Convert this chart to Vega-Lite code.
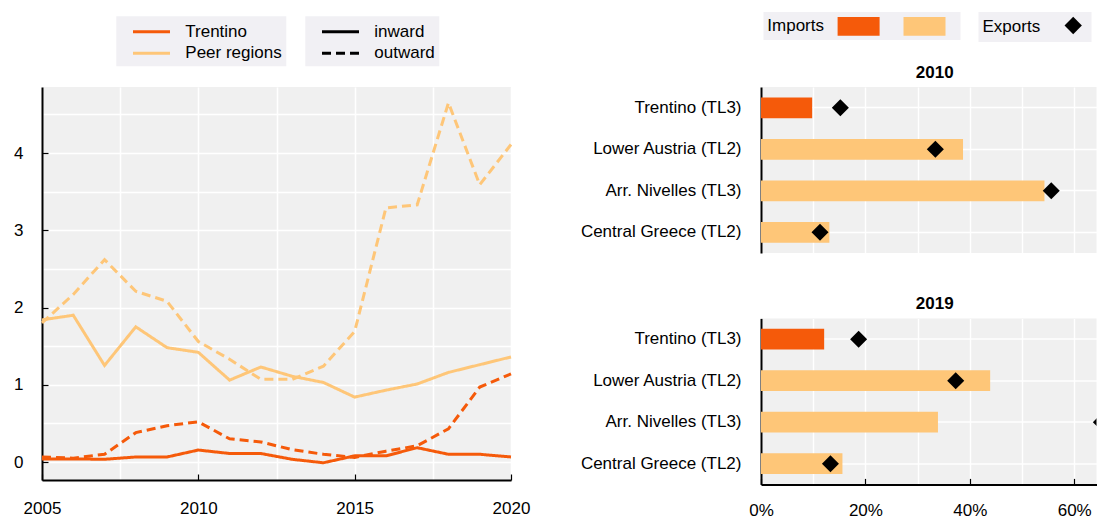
{
  "$schema": "https://vega.github.io/schema/vega-lite/v6.json",
  "padding": {"left": 13, "top": 12, "right": 0, "bottom": 0},
  "background": "white",
  "config": {
    "font": "Liberation Sans",
    "view": {"fill": "#F0F0F0", "stroke": null},
    "axis": {"labelFont": "Liberation Sans", "labelFontSize": 17, "labelColor": "#000000", "labelLimit": 300, "gridColor": "#FFFFFF", "gridWidth": 1.5, "gridOpacity": 1, "domainColor": "#000000", "domainWidth": 2, "tickColor": "#000000", "tickWidth": 1.2, "title": null},
    "legend": {"labelFont": "Liberation Sans", "titleFont": "Liberation Sans", "labelFontSize": 17, "titleFontSize": 17, "titleFontWeight": "normal", "labelColor": "#000000", "titleColor": "#000000"},
    "title": {"font": "Liberation Sans", "fontSize": 17, "fontWeight": "bold", "color": "#000000"}
  },
  "datasets": {
    "lines": [
      {"year": 2005, "region": "Trentino", "flow": "inward", "value": 0.04},
      {"year": 2006, "region": "Trentino", "flow": "inward", "value": 0.04},
      {"year": 2007, "region": "Trentino", "flow": "inward", "value": 0.035},
      {"year": 2008, "region": "Trentino", "flow": "inward", "value": 0.065},
      {"year": 2009, "region": "Trentino", "flow": "inward", "value": 0.065},
      {"year": 2010, "region": "Trentino", "flow": "inward", "value": 0.155},
      {"year": 2011, "region": "Trentino", "flow": "inward", "value": 0.11},
      {"year": 2012, "region": "Trentino", "flow": "inward", "value": 0.11},
      {"year": 2013, "region": "Trentino", "flow": "inward", "value": 0.035},
      {"year": 2014, "region": "Trentino", "flow": "inward", "value": -0.01},
      {"year": 2015, "region": "Trentino", "flow": "inward", "value": 0.08},
      {"year": 2016, "region": "Trentino", "flow": "inward", "value": 0.08},
      {"year": 2017, "region": "Trentino", "flow": "inward", "value": 0.185},
      {"year": 2018, "region": "Trentino", "flow": "inward", "value": 0.1},
      {"year": 2019, "region": "Trentino", "flow": "inward", "value": 0.1},
      {"year": 2020, "region": "Trentino", "flow": "inward", "value": 0.065},
      {"year": 2005, "region": "Trentino", "flow": "outward", "value": 0.065},
      {"year": 2006, "region": "Trentino", "flow": "outward", "value": 0.05},
      {"year": 2007, "region": "Trentino", "flow": "outward", "value": 0.1},
      {"year": 2008, "region": "Trentino", "flow": "outward", "value": 0.38},
      {"year": 2009, "region": "Trentino", "flow": "outward", "value": 0.47},
      {"year": 2010, "region": "Trentino", "flow": "outward", "value": 0.52},
      {"year": 2011, "region": "Trentino", "flow": "outward", "value": 0.3},
      {"year": 2012, "region": "Trentino", "flow": "outward", "value": 0.26},
      {"year": 2013, "region": "Trentino", "flow": "outward", "value": 0.16},
      {"year": 2014, "region": "Trentino", "flow": "outward", "value": 0.1},
      {"year": 2015, "region": "Trentino", "flow": "outward", "value": 0.06},
      {"year": 2016, "region": "Trentino", "flow": "outward", "value": 0.14},
      {"year": 2017, "region": "Trentino", "flow": "outward", "value": 0.21},
      {"year": 2018, "region": "Trentino", "flow": "outward", "value": 0.43},
      {"year": 2019, "region": "Trentino", "flow": "outward", "value": 0.97},
      {"year": 2020, "region": "Trentino", "flow": "outward", "value": 1.14},
      {"year": 2005, "region": "Peer regions", "flow": "inward", "value": 1.84},
      {"year": 2006, "region": "Peer regions", "flow": "inward", "value": 1.9},
      {"year": 2007, "region": "Peer regions", "flow": "inward", "value": 1.25},
      {"year": 2008, "region": "Peer regions", "flow": "inward", "value": 1.75},
      {"year": 2009, "region": "Peer regions", "flow": "inward", "value": 1.48},
      {"year": 2010, "region": "Peer regions", "flow": "inward", "value": 1.42},
      {"year": 2011, "region": "Peer regions", "flow": "inward", "value": 1.06},
      {"year": 2012, "region": "Peer regions", "flow": "inward", "value": 1.23},
      {"year": 2013, "region": "Peer regions", "flow": "inward", "value": 1.11},
      {"year": 2014, "region": "Peer regions", "flow": "inward", "value": 1.03},
      {"year": 2015, "region": "Peer regions", "flow": "inward", "value": 0.84},
      {"year": 2016, "region": "Peer regions", "flow": "inward", "value": 0.93},
      {"year": 2017, "region": "Peer regions", "flow": "inward", "value": 1.01},
      {"year": 2018, "region": "Peer regions", "flow": "inward", "value": 1.16},
      {"year": 2019, "region": "Peer regions", "flow": "inward", "value": 1.26},
      {"year": 2020, "region": "Peer regions", "flow": "inward", "value": 1.36},
      {"year": 2005, "region": "Peer regions", "flow": "outward", "value": 1.8},
      {"year": 2006, "region": "Peer regions", "flow": "outward", "value": 2.17},
      {"year": 2007, "region": "Peer regions", "flow": "outward", "value": 2.62},
      {"year": 2008, "region": "Peer regions", "flow": "outward", "value": 2.21},
      {"year": 2009, "region": "Peer regions", "flow": "outward", "value": 2.08},
      {"year": 2010, "region": "Peer regions", "flow": "outward", "value": 1.56},
      {"year": 2011, "region": "Peer regions", "flow": "outward", "value": 1.33},
      {"year": 2012, "region": "Peer regions", "flow": "outward", "value": 1.07},
      {"year": 2013, "region": "Peer regions", "flow": "outward", "value": 1.07},
      {"year": 2014, "region": "Peer regions", "flow": "outward", "value": 1.24},
      {"year": 2015, "region": "Peer regions", "flow": "outward", "value": 1.69},
      {"year": 2016, "region": "Peer regions", "flow": "outward", "value": 3.29},
      {"year": 2017, "region": "Peer regions", "flow": "outward", "value": 3.33},
      {"year": 2018, "region": "Peer regions", "flow": "outward", "value": 4.65},
      {"year": 2019, "region": "Peer regions", "flow": "outward", "value": 3.59},
      {"year": 2020, "region": "Peer regions", "flow": "outward", "value": 4.11}
    ],
    "trade": [
      {"year": "2010", "region": "Trentino (TL3)", "group": "Trentino", "imports": 0.098, "exports": 0.152},
      {"year": "2010", "region": "Lower Austria (TL2)", "group": "Peer regions", "imports": 0.387, "exports": 0.334},
      {"year": "2010", "region": "Arr. Nivelles (TL3)", "group": "Peer regions", "imports": 0.543, "exports": 0.556},
      {"year": "2010", "region": "Central Greece (TL2)", "group": "Peer regions", "imports": 0.131, "exports": 0.113},
      {"year": "2019", "region": "Trentino (TL3)", "group": "Trentino", "imports": 0.121, "exports": 0.187},
      {"year": "2019", "region": "Lower Austria (TL2)", "group": "Peer regions", "imports": 0.439, "exports": 0.373},
      {"year": "2019", "region": "Arr. Nivelles (TL3)", "group": "Peer regions", "imports": 0.339, "exports": 0.652},
      {"year": "2019", "region": "Central Greece (TL2)", "group": "Peer regions", "imports": 0.156, "exports": 0.133}
    ]
  },
  "spacing": 50,
  "resolve": {"scale": {"stroke": "independent", "strokeDash": "independent", "fill": "independent", "shape": "independent"}},
  "hconcat": [
    {
      "width": 469,
      "height": 393,
      "data": {"name": "lines"},
      "mark": {"type": "line", "strokeWidth": 3},
      "encoding": {
        "x": {"field": "year", "type": "quantitative", "scale": {"domain": [2005, 2020], "nice": false, "zero": false},
          "axis": {"values": [2005, 2007.5, 2010, 2012.5, 2015, 2017.5, 2020], "labelExpr": "datum.value % 5 == 0 ? format(datum.value, 'd') : ''", "labelFlush": false, "grid": true, "ticks": true, "tickSize": -6, "tickOpacity": {"condition": {"test": "datum.value % 5 != 0", "value": 0}, "value": 1}, "labelPadding": 26}},
        "y": {"field": "value", "type": "quantitative", "scale": {"domain": [-0.233, 4.855], "nice": false, "zero": false},
          "axis": {"values": [0, 0.5, 1, 1.5, 2, 2.5, 3, 3.5, 4, 4.5], "labelExpr": "datum.value % 1 == 0 ? format(datum.value, 'd') : ''", "grid": true, "ticks": true, "tickSize": -6, "tickOpacity": {"condition": {"test": "datum.value % 1 != 0", "value": 0}, "value": 1}, "labelPadding": 25}},
        "stroke": {"field": "region", "type": "nominal", "scale": {"domain": ["Trentino", "Peer regions"], "range": ["#F55A0A", "#FEC678"]},
          "legend": {"title": null, "orient": "none", "legendX": 74.3, "legendY": -70.7, "direction": "vertical", "symbolType": "M-2,0L2,0", "symbolSize": 342, "symbolStrokeWidth": 3, "symbolOffset": 19.7, "labelOffset": 22.8, "rowPadding": 2.5, "padding": 4.5, "fillColor": "#F1F0F4"}},
        "strokeDash": {"field": "flow", "type": "nominal", "scale": {"domain": ["inward", "outward"], "range": [[1, 0], [9, 5]]},
          "legend": {"title": null, "orient": "none", "legendX": 263.3, "legendY": -70.7, "direction": "vertical", "symbolType": "M-2,0L2,0", "symbolSize": 342, "symbolStrokeWidth": 3, "symbolStrokeColor": "#000000", "symbolOffset": 19.7, "labelOffset": 22.8, "rowPadding": 2.5, "padding": 4.5, "fillColor": "#F1F0F4"}}
      }
    },
    {
      "spacing": 42.4,
      "vconcat": [
        {
          "title": {"text": "2010", "offset": 5, "dx": 6},
          "width": 335.5,
          "height": 166,
          "data": {"name": "trade"},
          "transform": [{"filter": "datum.year == '2010'"}],
          "encoding": {
            "y": {"field": "region", "type": "nominal", "sort": ["Trentino (TL3)", "Lower Austria (TL2)", "Arr. Nivelles (TL3)", "Central Greece (TL2)"], "scale": {"paddingInner": 0.5, "paddingOuter": 0.25},
              "axis": {"grid": true, "bandPosition": 0.5, "ticks": true, "tickSize": -6, "labelPadding": 26}}
          },
          "layer": [
            {
              "mark": {"type": "bar"},
              "encoding": {
                "x": {"field": "imports", "type": "quantitative", "scale": {"domain": [0, 0.6427], "nice": false},
                  "axis": {"values": [0, 0.1, 0.2, 0.3, 0.4, 0.5, 0.6], "grid": true, "labels": false, "ticks": false, "domain": false}},
                "fill": {"field": "group", "type": "nominal", "scale": {"domain": ["Trentino", "Peer regions"], "range": ["#F55A0A", "#FEC678"]},
                  "legend": {"title": "Imports", "titleOrient": "left", "orient": "none", "legendX": 2.5, "legendY": -75, "direction": "horizontal", "symbolType": "M-2,-0.9L2,-0.9L2,0.9L-2,0.9Z", "symbolSize": 441, "symbolStrokeWidth": 0, "symbolOffset": 10.5, "labelExpr": "' '", "labelOffset": 21, "columnPadding": 12.9, "titlePadding": 13.3, "padding": 3.8, "fillColor": "#F1F0F4"}}
              }
            },
            {
              "mark": {"type": "point", "shape": "diamond", "filled": true, "size": 290, "color": "#000000", "opacity": 1, "clip": true},
              "encoding": {
                "x": {"field": "exports", "type": "quantitative"},
                "shape": {"datum": "Exports", "scale": {"range": ["diamond"]},
                  "legend": {"title": "Exports", "titleOrient": "left", "orient": "none", "legendX": 217.5, "legendY": -75, "symbolSize": 300, "symbolFillColor": "#000000", "symbolStrokeColor": "#000000", "labelExpr": "' '", "labelOffset": 4, "titlePadding": 23.2, "padding": 4, "fillColor": "#F1F0F4"}}
              }
            }
          ]
        },
        {
          "title": {"text": "2019", "offset": 5, "dx": 6},
          "width": 335.5,
          "height": 166,
          "data": {"name": "trade"},
          "transform": [{"filter": "datum.year == '2019'"}],
          "encoding": {
            "y": {"field": "region", "type": "nominal", "sort": ["Trentino (TL3)", "Lower Austria (TL2)", "Arr. Nivelles (TL3)", "Central Greece (TL2)"], "scale": {"paddingInner": 0.5, "paddingOuter": 0.25},
              "axis": {"grid": true, "bandPosition": 0.5, "ticks": true, "tickSize": -6, "labelPadding": 26}}
          },
          "layer": [
            {
              "mark": {"type": "bar"},
              "encoding": {
                "x": {"field": "imports", "type": "quantitative", "scale": {"domain": [0, 0.6427], "nice": false},
                  "axis": {"values": [0, 0.1, 0.2, 0.3, 0.4, 0.5, 0.6], "labelExpr": "round(datum.value * 100) % 20 == 0 ? format(datum.value, '.0%') : ''", "labelFlush": false, "grid": true, "ticks": true, "tickSize": -6, "tickOpacity": {"condition": {"test": "round(datum.value * 100) % 20 != 0", "value": 0}, "value": 1}, "labelPadding": 24}},
                "fill": {"field": "group", "type": "nominal", "scale": {"domain": ["Trentino", "Peer regions"], "range": ["#F55A0A", "#FEC678"]},
                  "legend": {"title": "Imports", "titleOrient": "left", "orient": "none", "legendX": 2.5, "legendY": -75, "direction": "horizontal", "symbolType": "M-2,-0.9L2,-0.9L2,0.9L-2,0.9Z", "symbolSize": 441, "symbolStrokeWidth": 0, "symbolOffset": 10.5, "labelExpr": "' '", "labelOffset": 21, "columnPadding": 12.9, "titlePadding": 13.3, "padding": 3.8, "fillColor": "#F1F0F4"}}
              }
            },
            {
              "mark": {"type": "point", "shape": "diamond", "filled": true, "size": 290, "color": "#000000", "opacity": 1, "clip": true},
              "encoding": {
                "x": {"field": "exports", "type": "quantitative"},
                "shape": {"datum": "Exports", "scale": {"range": ["diamond"]},
                  "legend": {"title": "Exports", "titleOrient": "left", "orient": "none", "legendX": 217.5, "legendY": -75, "symbolSize": 300, "symbolFillColor": "#000000", "symbolStrokeColor": "#000000", "labelExpr": "' '", "labelOffset": 4, "titlePadding": 23.2, "padding": 4, "fillColor": "#F1F0F4"}}
              }
            }
          ]
        }
      ]
    }
  ]
}
